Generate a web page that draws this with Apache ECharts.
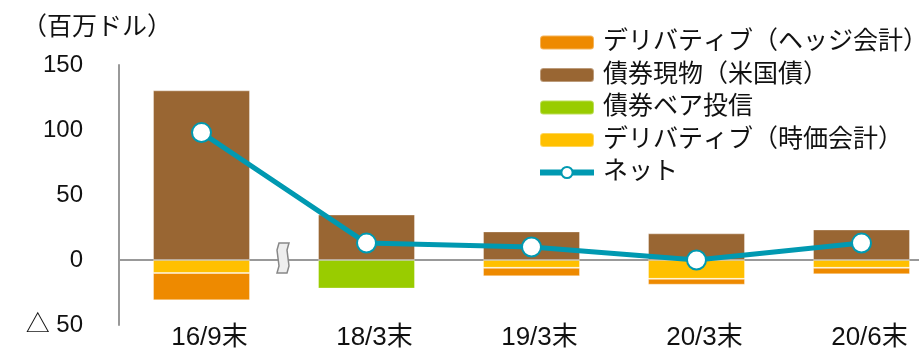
<!DOCTYPE html>
<html>
<head>
<meta charset="utf-8">
<script src="https://cdn.jsdelivr.net/npm/echarts@6/dist/echarts.min.js"></script>
<style>
  html, body { margin: 0; padding: 0; background: #fff; }
  #chart { width: 919px; height: 348px; }
</style>
</head>
<body>
<div id="chart"></div>
<script>
// categories and values (百万ドル)
var categories = ["16/9末", "18/3末", "19/3末", "20/3末", "20/6末"];
var bondCash = [130.5, 35, 22, 20.5, 23.5];        // 債券現物（米国債）
var derivFair = [-10, null, -6, -14.5, -6];        // デリバティブ（時価会計）
var bondBear = [null, -22, null, null, null];      // 債券ベア投信
var derivHedge = [-21, null, -6.5, -4.5, -5];      // デリバティブ（ヘッジ会計）
var net = [98, 13, 10, 0, 13];                     // ネット
var yTicks = { min: -50, max: 150, step: 50 };

var names = {
  hedge: "デリバティブ（ヘッジ会計）",
  cash: "債券現物（米国債）",
  bear: "債券ベア投信",
  fair: "デリバティブ（時価会計）",
  net: "ネット"
};

var FONT = "'Liberation Sans', 'Noto Sans CJK JP', sans-serif";
var TEAL = "#0099B1";
var chart = echarts.init(document.getElementById("chart"));

function barSeries(name, data, color) {
  return {
    name: name,
    type: "bar",
    stack: "total",
    barWidth: 97,
    data: data,
    itemStyle: {
      color: color,
      borderColor: "rgba(255,255,255,0.35)",
      borderWidth: 1
    }
  };
}

var option = {
  animation: false,
  textStyle: { fontFamily: FONT },
  // the plot runs past the right edge of the picture, so no clamping
  grid: { left: 119, top: 65, width: 825, height: 260, outerBoundsMode: "none" },
  title: {
    text: "（百万ドル）",
    left: 22,
    top: 13,
    padding: 0,
    textStyle: { fontFamily: "'Noto Sans CJK JP'", fontSize: 25, fontWeight: "normal", color: "#111" }
  },
  legend: {
    data: [
      names.hedge, names.cash, names.bear, names.fair,
      { name: names.net, lineStyle: { width: 6 } }
    ],
    orient: "vertical",
    left: 537,
    top: 29,
    padding: 0,
    itemWidth: 54,
    itemHeight: 14,
    itemGap: 5.5,
    textStyle: { fontFamily: FONT, fontSize: 25, lineHeight: 27, color: "#111", padding: [0, 0, 0, 4] }
  },
  xAxis: [
    {
      type: "category",
      data: categories,
      position: "bottom",
      axisLine: { show: false, onZero: false },
      axisTick: { show: false },
      axisLabel: { fontSize: 26, color: "#111", margin: 0, padding: [0, 0, 0, 16] }
    },
    {
      // zero line
      type: "category",
      data: categories,
      axisLine: { show: true, onZero: true, lineStyle: { color: "#999", width: 2 } },
      axisTick: { show: false },
      axisLabel: { show: false }
    }
  ],
  yAxis: {
    type: "value",
    min: yTicks.min,
    max: yTicks.max,
    interval: yTicks.step,
    axisLine: { show: true, lineStyle: { color: "#999", width: 2 } },
    axisTick: { show: false },
    splitLine: { show: false },
    axisLabel: {
      fontSize: 24,
      color: "#111",
      margin: 36,
      formatter: function (v) { return v < 0 ? "△ " + (-v) : String(v); }
    }
  },
  series: [
    barSeries(names.cash, bondCash, "#996633"),
    barSeries(names.fair, derivFair, "#FFC000"),
    barSeries(names.bear, bondBear, "#99CC00"),
    barSeries(names.hedge, derivHedge, "#EE8A00"),
    {
      name: names.net,
      type: "line",
      data: net,
      z: 5,
      symbol: "circle",
      symbolSize: 19,
      lineStyle: { color: TEAL, width: 5 },
      itemStyle: { color: "#fff", borderColor: TEAL, borderWidth: 2 }
    }
  ],
  graphic: [
    {
      // axis break mark
      type: "polygon",
      z: 10,
      shape: {
        points: [[279, 243], [289, 243], [287, 250], [288, 258], [289, 266], [287, 273],
                 [277, 273], [279, 266], [278, 258], [277, 250]]
      },
      style: { fill: "#eeeeee", stroke: "#888", lineWidth: 1.5 }
    }
  ]
};

chart.setOption(option);
</script>
</body>
</html>
